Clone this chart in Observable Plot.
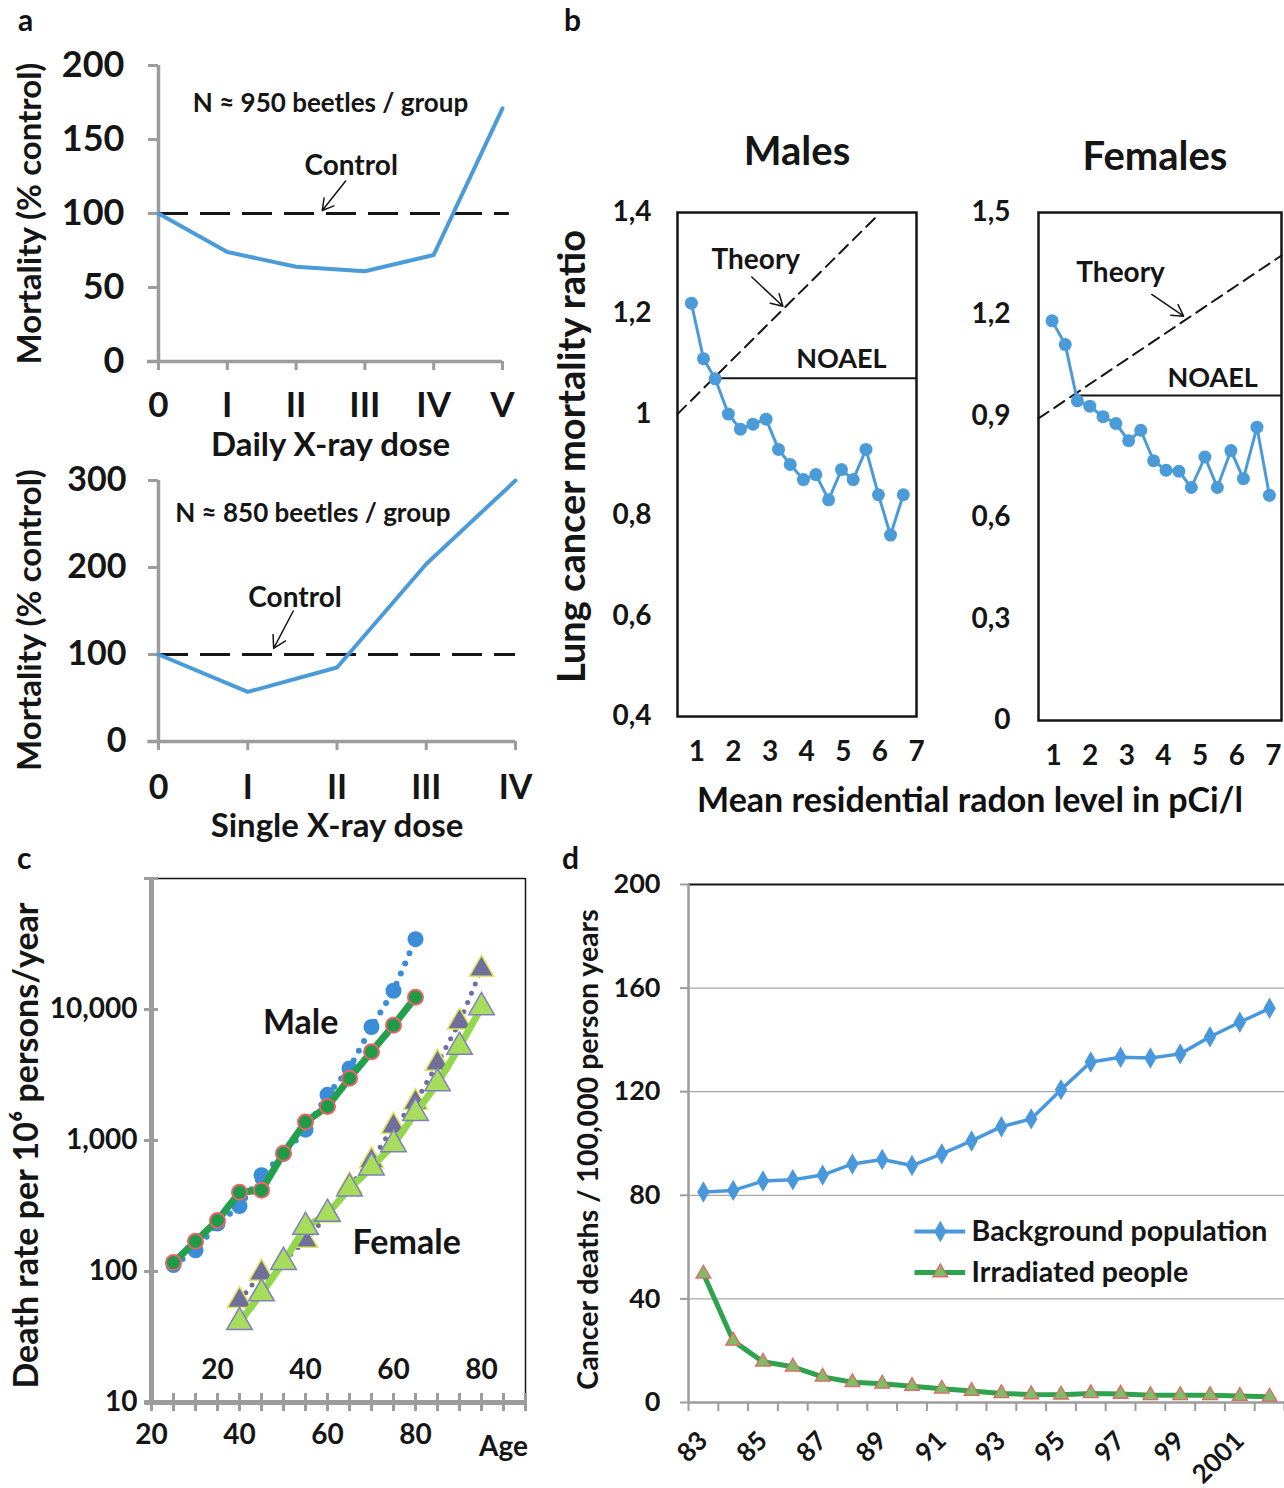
<!DOCTYPE html>
<html><head><meta charset="utf-8">
<script src="https://cdn.jsdelivr.net/npm/d3@7"></script>
<script src="https://cdn.jsdelivr.net/npm/@observablehq/plot@0.6"></script>
<style>
body{margin:0;background:#fff;overflow:hidden;}
#root{position:relative;width:1284px;height:1488px;font-family:Lato,"Open Sans",sans-serif;font-weight:bold;color:#111;}
.lbl{position:absolute;font-weight:bold;line-height:1;white-space:nowrap;}
</style></head><body><div id="root"></div>
<script>
// ---------- DATA ----------
// Panel a (top): daily X-ray dose
const doseA1 = [0, 1, 2, 3, 4, 5];
const romanA1 = ["0", "I", "II", "III", "IV", "V"];
const mortA1 = [100, 74, 64, 61, 72, 171];
// Panel a (bottom): single X-ray dose
const doseA2 = [0, 1, 2, 3, 4];
const romanA2 = ["0", "I", "II", "III", "IV"];
const mortA2 = [100, 57, 85, 204, 300];
const ticksA1 = [0, 50, 100, 150, 200];
const ticksA2 = [0, 100, 200, 300];

// Panel b: radon
const radonM = [0.85, 1.18, 1.5, 1.86, 2.19, 2.53, 2.89, 3.23, 3.55, 3.91, 4.25, 4.6, 4.95, 5.27, 5.62, 5.96, 6.29, 6.64];
const ratioM = [1.22, 1.11, 1.07, 1.0, 0.97, 0.98, 0.99, 0.93, 0.90, 0.87, 0.88, 0.83, 0.89, 0.87, 0.93, 0.84, 0.76, 0.84];
const radonF = [0.96, 1.32, 1.65, 1.99, 2.35, 2.7, 3.05, 3.38, 3.73, 4.07, 4.42, 4.76, 5.13, 5.47, 5.84, 6.18, 6.55, 6.89];
const ratioF = [1.18, 1.11, 0.944, 0.928, 0.897, 0.877, 0.826, 0.857, 0.767, 0.739, 0.736, 0.688, 0.778, 0.688, 0.797, 0.714, 0.866, 0.665];
const theoryM = [{x: 0.47, y: 1.0}, {x: 5.88, y: 1.39}];
const theoryF = [{x: 0.59, y: 0.892}, {x: 7.22, y: 1.373}];
const noaelM = {y: 1.071, x1: 1.5, x2: 7};
const noaelF = {y: 0.96, x1: 1.65, x2: 7.22};
const ticksBM = [0.4, 0.6, 0.8, 1, 1.2, 1.4];
const ticksBF = [0, 0.3, 0.6, 0.9, 1.2, 1.5];
const ticksBX = [1, 2, 3, 4, 5, 6, 7];

// Panel c: death rate by age (log)
const ageC = [25, 30, 35, 40, 45, 50, 55, 60, 65, 70, 75, 80];
const maleFit = [117, 170, 245, 402, 418, 798, 1383, 1820, 2985, 4750, 7570, 12400];
const maleObs = [112, 145, 232, 316, 543, 790, 1210, 2230, 3550, 7350, 13900, 34400];
const femaleFit = [41, 68, 118, 219, 275, 430, 621, 933, 1620, 2730, 5180, 10400];
const femaleObs = [60, 97, 120, 173, 270, 450, 700, 1283, 1950, 3880, 8010, 20300];
const femaleShift = 15;
const ticksCX = [20, 40, 60, 80];
const ticksCXminor = [20, 25, 30, 35, 40, 45, 50, 55, 60, 65, 70, 75, 80, 85, 90, 95, 100, 105];
const ticksCFem = [20, 40, 60, 80];
const ticksCY = [10, 100, 1000, 10000];
const ticksCYall = [10, 100, 1000, 10000, 100000];

// Panel d: cancer deaths per 100,000 person years
const yearsD = [1983, 1984, 1985, 1986, 1987, 1988, 1989, 1990, 1991, 1992, 1993, 1994, 1995, 1996, 1997, 1998, 1999, 2000, 2001, 2002];
const bgPop = [81.3, 81.9, 85.5, 86, 87.8, 92.1, 93.8, 91.5, 96, 101, 106.5, 109.5, 120.8, 131.5, 133.3, 133, 134.6, 141.2, 146.8, 152.2];
const irradiated = [49.7, 23.8, 15.7, 13.8, 9.9, 7.8, 7.2, 6.3, 5.3, 4.4, 3.5, 3.1, 3.0, 3.5, 3.3, 2.8, 2.8, 2.8, 2.5, 2.2];
const ticksDY = [0, 40, 80, 120, 160, 200];
const ticksDX = [1983, 1985, 1987, 1989, 1991, 1993, 1995, 1997, 1999, 2001];
const ticksDBound = [1982.5, 1983.5, 1984.5, 1985.5, 1986.5, 1987.5, 1988.5, 1989.5, 1990.5, 1991.5, 1992.5, 1993.5, 1994.5, 1995.5, 1996.5, 1997.5, 1998.5, 1999.5, 2000.5, 2001.5, 2002.5];
const legendD = [
  {label: "Background population", x1: 1990.1, x2: 1991.8, xm: 1990.95, xt: 1992.0, y: 66},
  {label: "Irradiated people", x1: 1990.1, x2: 1991.8, xm: 1990.95, xt: 1992.0, y: 50.2}
];

// ---------- STYLE ----------
const FONT = "Lato, 'Open Sans', sans-serif";
const BLUE = "#4c9bd9";
const GRAY = "#9c9c9c";
const INK = "#151515";
const st = fs => ({fontFamily: FONT, fontWeight: "bold", fontSize: fs + "px", color: INK, background: "transparent", overflow: "visible"});
const comma = d => String(+d.toFixed(1)).replace(".", ",");
const root = document.getElementById("root");
function place(el, left, top) {
  el.style.position = "absolute"; el.style.left = left + "px"; el.style.top = top + "px";
  root.appendChild(el);
}
function label(text, left, top, size, extra) {
  const d = document.createElement("div");
  d.className = "lbl"; d.textContent = text; d.style.fontSize = size + "px";
  d.style.left = left + "px"; d.style.top = top + "px";
  if (extra) Object.assign(d.style, extra);
  root.appendChild(d);
}
const T = d => d;
const MID = {textAnchor: "middle", lineAnchor: "middle", fill: INK};

// ---------- PANEL a (top) ----------
place(Plot.plot({
  width: 540, height: 460, marginLeft: 158, marginRight: 38, marginTop: 65, marginBottom: 99,
  x: {domain: [0, 5], label: null}, y: {domain: [0, 200], label: null},
  style: st(36),
  marks: [
    Plot.ruleY([0], {x1: -0.16, x2: 5, stroke: GRAY, strokeWidth: 3.5}),
    Plot.ruleX([0], {y1: 0, y2: 200, stroke: GRAY, strokeWidth: 3.5}),
    Plot.axisY({ticks: ticksA1, tickSize: 10, tickPadding: 24, stroke: GRAY, strokeWidth: 3, fill: INK, label: null}),
    Plot.axisX({ticks: doseA1, tickFormat: i => romanA1[i], tickSize: 9, tickPadding: 22, fontSize: 35, stroke: GRAY, strokeWidth: 3, fill: INK, label: null}),
    Plot.ruleY([100], {x1: 0, x2: 5.1, stroke: INK, strokeWidth: 3, strokeDasharray: "30,12"}),
    Plot.line(doseA1, {x: doseA1, y: mortA1, stroke: BLUE, strokeWidth: 4}),
    Plot.text(["N ≈ 950 beetles / group"], {...MID, text: T, x: 2.5, y: 174, fontSize: 26}),
    Plot.text(["Control"], {...MID, text: T, x: 2.8, y: 132, fontSize: 28}),
    Plot.arrow([{x1: 2.72, y1: 122, x2: 2.38, y2: 102}], {x1: "x1", y1: "y1", x2: "x2", y2: "y2", stroke: INK, strokeWidth: 1.5, headLength: 14}),
    Plot.text(["Mortality (% control)"], {...MID, text: T, frameAnchor: "left", dx: -128, rotate: -90, fontSize: 33}),
    Plot.text(["Daily X-ray dose"], {...MID, text: T, frameAnchor: "bottom", dy: 84, fontSize: 33})
  ]
}), 0, 0);

// ---------- PANEL a (bottom) ----------
place(Plot.plot({
  width: 540, height: 390, marginLeft: 158, marginRight: 25, marginTop: 20, marginBottom: 109,
  x: {domain: [0, 4], label: null}, y: {domain: [0, 300], label: null},
  style: st(34),
  marks: [
    Plot.ruleY([0], {x1: -0.12, x2: 4, stroke: GRAY, strokeWidth: 3.5}),
    Plot.ruleX([0], {y1: 0, y2: 300, stroke: GRAY, strokeWidth: 3.5}),
    Plot.axisY({ticks: ticksA2, tickSize: 10, tickPadding: 22, stroke: GRAY, strokeWidth: 3, fill: INK, label: null}),
    Plot.axisX({ticks: doseA2, tickFormat: i => romanA2[i], tickSize: 9, tickPadding: 24, stroke: GRAY, strokeWidth: 3, fill: INK, label: null}),
    Plot.ruleY([100], {x1: 0, x2: 4, stroke: INK, strokeWidth: 3, strokeDasharray: "30,12"}),
    Plot.line(doseA2, {x: doseA2, y: mortA2, stroke: BLUE, strokeWidth: 4}),
    Plot.text(["N ≈ 850 beetles / group"], {...MID, text: T, x: 1.73, y: 262, fontSize: 26}),
    Plot.text(["Control"], {...MID, text: T, x: 1.53, y: 165, fontSize: 28}),
    Plot.arrow([{x1: 1.51, y1: 150, x2: 1.29, y2: 107}], {x1: "x1", y1: "y1", x2: "x2", y2: "y2", stroke: INK, strokeWidth: 1.5, headLength: 14}),
    Plot.text(["Mortality (% control)"], {...MID, text: T, frameAnchor: "left", dx: -128, dy: 9, rotate: -90, fontSize: 33}),
    Plot.text(["Single X-ray dose"], {...MID, text: T, frameAnchor: "bottom", dy: 85, fontSize: 33})
  ]
}), 0, 460);

// ---------- PANEL b (males) ----------
place(Plot.plot({
  width: 400, height: 720, marginLeft: 137, marginRight: 24, marginTop: 112, marginBottom: 104,
  x: {domain: [0.47, 7], label: null}, y: {domain: [0.4, 1.4], label: null},
  style: st(28),
  marks: [
    Plot.frame({stroke: INK, strokeWidth: 2.5}),
    Plot.axisY({ticks: ticksBM, tickSize: 0, tickPadding: 26, tickFormat: comma, fill: INK, label: null}),
    Plot.axisX({ticks: ticksBX, tickSize: 0, tickPadding: 25, tickFormat: d => String(d), fill: INK, label: null}),
    Plot.line(theoryM, {x: "x", y: "y", stroke: INK, strokeWidth: 2, strokeDasharray: "12,7"}),
    Plot.ruleY([noaelM], {y: "y", x1: "x1", x2: "x2", stroke: INK, strokeWidth: 2}),
    Plot.line(radonM, {x: radonM, y: ratioM, stroke: BLUE, strokeWidth: 3}),
    Plot.dot(radonM, {x: radonM, y: ratioM, fill: BLUE, r: 6.5}),
    Plot.text(["Theory"], {...MID, text: T, x: 2.61, y: 1.305, fontSize: 28}),
    Plot.arrow([{x1: 2.5, y1: 1.272, x2: 3.35, y2: 1.214}], {x1: "x1", y1: "y1", x2: "x2", y2: "y2", stroke: INK, strokeWidth: 1.5, headLength: 13}),
    Plot.text(["NOAEL"], {...MID, text: T, x: 4.95, y: 1.108, fontSize: 27}),
    Plot.text(["Males"], {...MID, text: T, frameAnchor: "top", dy: -60, fontSize: 40}),
    Plot.text(["Lung cancer mortality ratio"], {...MID, text: T, frameAnchor: "left", dx: -105, dy: -8, rotate: -90, fontSize: 38})
  ]
}), 540, 100);

// ---------- PANEL b (females) ----------
place(Plot.plot({
  width: 344, height: 720, marginLeft: 98, marginRight: 3, marginTop: 112, marginBottom: 100,
  x: {domain: [0.59, 7.22], label: null}, y: {domain: [0, 1.5], label: null},
  style: st(28),
  marks: [
    Plot.frame({stroke: INK, strokeWidth: 2.5}),
    Plot.axisY({ticks: ticksBF, tickSize: 0, tickPadding: 28, tickFormat: comma, fill: INK, label: null}),
    Plot.axisX({ticks: ticksBX, tickSize: 0, tickPadding: 25, tickFormat: d => String(d), fill: INK, label: null}),
    Plot.line(theoryF, {x: "x", y: "y", stroke: INK, strokeWidth: 2, strokeDasharray: "12,7"}),
    Plot.ruleY([noaelF], {y: "y", x1: "x1", x2: "x2", stroke: INK, strokeWidth: 2}),
    Plot.line(radonF, {x: radonF, y: ratioF, stroke: BLUE, strokeWidth: 3}),
    Plot.dot(radonF, {x: radonF, y: ratioF, fill: BLUE, r: 6.5}),
    Plot.text(["Theory"], {...MID, text: T, x: 2.83, y: 1.32, fontSize: 28}),
    Plot.arrow([{x1: 3.68, y1: 1.258, x2: 4.55, y2: 1.194}], {x1: "x1", y1: "y1", x2: "x2", y2: "y2", stroke: INK, strokeWidth: 1.5, headLength: 13}),
    Plot.text(["NOAEL"], {...MID, text: T, x: 5.34, y: 1.01, fontSize: 27}),
    Plot.text(["Females"], {...MID, text: T, frameAnchor: "top", dx: -5, dy: -55, fontSize: 40})
  ]
}), 940, 100);

label("Mean residential radon level in pCi/l", 0, 782, 34, {left: "570px", width: "800px", textAlign: "center"});

// ---------- PANEL c ----------
place(Plot.plot({
  width: 540, height: 638, marginLeft: 151, marginRight: 15, marginTop: 28, marginBottom: 86,
  x: {domain: [20, 105], label: null}, y: {type: "log", domain: [10, 100000], label: null},
  style: st(28),
  marks: [
    Plot.ruleY([100000], {x1: 20, x2: 105, stroke: INK, strokeWidth: 1.5}),
    Plot.ruleX([105], {y1: 10, y2: 100000, stroke: INK, strokeWidth: 1.5}),
    Plot.ruleY([10], {x1: 18.5, x2: 105, stroke: GRAY, strokeWidth: 5}),
    Plot.ruleX([20], {y1: 10, y2: 100000, stroke: GRAY, strokeWidth: 5}),
    Plot.axisX({ticks: ticksCXminor, tickSize: 18, dy: -9, tickFormat: () => "", stroke: GRAY, strokeWidth: 3, label: null}),
    Plot.axisY({ticks: ticksCYall, tickSize: 14, dx: 7, tickFormat: () => "", stroke: GRAY, strokeWidth: 3, label: null}),
    Plot.axisX({ticks: ticksCX, tickSize: 0, tickPadding: 22, tickFormat: d => String(d), fill: INK, label: null}),
    Plot.axisY({ticks: ticksCY, tickSize: 0, tickPadding: 14, tickFormat: d3.format(","), fill: INK, label: null}),
    Plot.text(ticksCFem, {...MID, text: d => String(d), x: d => d + femaleShift, frameAnchor: "bottom", dy: -32, fontSize: 28}),
    Plot.text(["Age"], {...MID, text: T, x: 100, frameAnchor: "bottom", dy: 45, fontSize: 28}),
    // male observed (blue dotted)
    Plot.line(ageC, {x: ageC, y: maleObs, stroke: "#3a8ed8", strokeWidth: 6, strokeDasharray: "0,11", strokeLinecap: "round"}),
    Plot.dot(ageC, {x: ageC, y: maleObs, r: 8, fill: "#3a8ed8"}),
    // male fit (green)
    Plot.line(ageC, {x: ageC, y: maleFit, stroke: "#22a04b", strokeWidth: 7}),
    Plot.dot(ageC, {x: ageC, y: maleFit, r: 7.5, fill: "#1f9b48", stroke: "#e8636a", strokeWidth: 2}),
    // female observed (slate dotted)
    Plot.line(ageC, {x: d => d + femaleShift, y: femaleObs, stroke: "#6e6e9c", strokeWidth: 5, strokeDasharray: "0,10", strokeLinecap: "round"}),
    Plot.dot(ageC, {x: d => d + femaleShift, y: femaleObs, symbol: "triangle", r: 9, fill: "#6f6f9c", stroke: "#e2e45c", strokeWidth: 1.5}),
    // female fit (light green)
    Plot.line(ageC, {x: d => d + femaleShift, y: femaleFit, stroke: "#93d84c", strokeWidth: 7}),
    Plot.dot(ageC, {x: d => d + femaleShift, y: femaleFit, symbol: "triangle", r: 9.5, fill: "#a8dd5c", stroke: "#7f81bf", strokeWidth: 1.5}),
    Plot.text(["Male"], {...MID, text: T, x: 53.9, y: 7940, fontSize: 34}),
    Plot.text(["Female"], {...MID, text: T, x: 78, y: 164, fontSize: 34}),
    Plot.text(["Death rate per 10⁶ persons/year"], {...MID, text: T, frameAnchor: "left", dx: -124, dy: 5, rotate: -90, fontSize: 34})
  ]
}), 0, 850);

// ---------- PANEL d ----------
place(Plot.plot({
  width: 744, height: 638, marginLeft: 148, marginRight: 0, marginTop: 34, marginBottom: 86,
  x: {domain: [1982.5, 2002.5], label: null}, y: {domain: [0, 200], label: null},
  style: st(27),
  marks: [
    Plot.ruleY([40, 80, 120, 160], {stroke: "#a8a8a8", strokeWidth: 1.3}),
    Plot.ruleY([200], {stroke: INK, strokeWidth: 2}),
    Plot.ruleY([0], {stroke: GRAY, strokeWidth: 2.5}),
    Plot.ruleX([1982.5], {y1: 0, y2: 200, stroke: GRAY, strokeWidth: 2.5}),
    Plot.axisY({ticks: ticksDY, tickSize: 8, tickPadding: 20, stroke: GRAY, strokeWidth: 2, fill: INK, label: null}),
    Plot.axisX({ticks: ticksDBound, tickSize: 9, tickFormat: () => "", stroke: GRAY, strokeWidth: 2, label: null}),
    Plot.axisX({ticks: ticksDX, tickSize: 0, tickPadding: 34, tickRotate: -45, fontSize: 26, tickFormat: y => y >= 2000 ? String(y) : String(y).slice(2), fill: INK, label: null}),
    Plot.line(yearsD, {x: yearsD, y: bgPop, stroke: "#4a98dc", strokeWidth: 3.5}),
    Plot.dot(yearsD, {x: yearsD, y: bgPop, symbol: "diamond", r: 6.5, fill: "#4a98dc"}),
    Plot.line(yearsD, {x: yearsD, y: irradiated, stroke: "#2ea24d", strokeWidth: 5}),
    Plot.dot(yearsD, {x: yearsD, y: irradiated, symbol: "triangle", r: 5.5, fill: "#7fbd66", stroke: "#e06868", strokeWidth: 1.3}),
    // legend
    Plot.ruleY(legendD.slice(0, 1), {y: "y", x1: "x1", x2: "x2", stroke: "#4a98dc", strokeWidth: 4}),
    Plot.dot(legendD.slice(0, 1), {x: "xm", y: "y", symbol: "diamond", r: 6.5, fill: "#4a98dc"}),
    Plot.ruleY(legendD.slice(1), {y: "y", x1: "x1", x2: "x2", stroke: "#2ea24d", strokeWidth: 5}),
    Plot.dot(legendD.slice(1), {x: "xm", y: "y", symbol: "triangle", r: 5.5, fill: "#7fbd66", stroke: "#e06868", strokeWidth: 1.3}),
    Plot.text(legendD, {x: "xt", y: "y", text: "label", textAnchor: "start", lineAnchor: "middle", fontSize: 28.5, fill: INK}),
    Plot.text(["Cancer deaths / 100,000 person years"], {...MID, text: T, frameAnchor: "left", dx: -100, dy: 6, rotate: -90, fontSize: 28.5})
  ]
}), 540, 850);

// panel letters
label("a", 18, 4, 30);
label("b", 564, 4, 30);
label("c", 17, 842, 30);
label("d", 562, 842, 30);
</script></body></html>
